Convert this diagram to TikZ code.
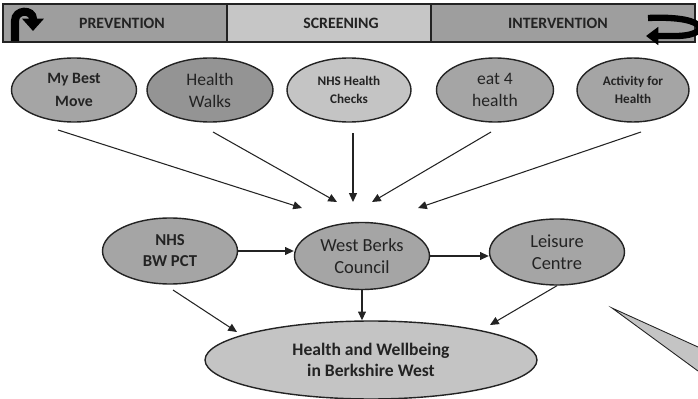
\documentclass[tikz,border=0pt]{standalone}
\usepackage{fontspec}
\setmainfont{Carlito}
\usetikzlibrary{arrows.meta, shapes.geometric, positioning, calc}
\tikzset{every node/.append style={align=center}}
\definecolor{bandgray}{RGB}{158,158,158}
\definecolor{bandlight}{RGB}{198,198,198}
\definecolor{blobgray}{RGB}{165,165,165}
\definecolor{blobdark}{RGB}{148,148,148}
\definecolor{bloblight}{RGB}{196,196,196}
\definecolor{inkgray}{RGB}{35,35,35}

\tikzset{
  blob/.style={ellipse, draw=inkgray, line width=0.8pt, fill=blobgray, inner sep=0pt,
               text=inkgray},
  link/.style={draw=inkgray, line width=0.6pt, -{Triangle[length=5pt,width=4.5pt]}},
  band/.style={draw=inkgray, line width=0.6pt},
  bandtxt/.style={font=\fontsize{9}{10}\selectfont\bfseries, text=inkgray},
}

\begin{document}
\begin{tikzpicture}[x=0.02cm,y=-0.02cm]
\useasboundingbox (0,0) rectangle (698,399);

% ── Stage bar ────────────────────────────────────────────────────────────────
\foreach \xa/\xb/\col in {3/227/bandgray, 227/431/bandlight, 431/695/bandgray}
  \filldraw[band, fill=\col] (\xa,4) rectangle (\xb,42);
\node[bandtxt] (prev) at (122,23) {PREVENTION};
\node[bandtxt] (scr)  at (341,23) {SCREENING};
\node[bandtxt] (intv) at (558,23) {INTERVENTION};

% U-turn and return arrows
\draw[black, line width=4.6pt, -{Triangle[length=7pt,width=12pt]}]
     (15,41) -- (15,21) .. controls (15,9) and (33,9) .. (33,19) -- (33,31);
\draw[black, line width=3.6pt, -{Triangle[length=7pt,width=10pt]}]
     (648,18) .. controls (712,15) and (712,37) .. (672,36) -- (646,36);

% ── Programmes ───────────────────────────────────────────────────────────────
\node[blob, minimum width=2.5cm, minimum height=1.28cm,
      font=\fontsize{9}{13}\selectfont\bfseries] (mbm) at (74,90) {My Best\\Move};
\node[blob, fill=blobdark, minimum width=2.52cm, minimum height=1.28cm,
      font=\fontsize{10}{12.5}\selectfont] (walk) at (210,90) {Health\\Walks};
\node[blob, fill=bloblight, minimum width=2.48cm, minimum height=1.28cm,
      font=\fontsize{7.5}{10}\selectfont\bfseries] (chk) at (349,90) {NHS Health\\Checks};
\node[blob, minimum width=2.34cm, minimum height=1.28cm,
      font=\fontsize{10}{12.5}\selectfont] (eat) at (495,90) {eat 4\\health};
\node[blob, minimum width=2.24cm, minimum height=1.28cm,
      font=\fontsize{7.5}{10}\selectfont\bfseries] (act) at (633,90) {Activity for\\Health};

% arrows converging above the council
\foreach \sx/\sy/\tx/\ty/\nm in {58/130/302/208/a, 213/132/337/202/b,
                                 353/133/353/202/c, 491/132/372/202/d,
                                 641/132/418/208/e} {
  \coordinate (s\nm) at (\sx,\sy);
  \coordinate (t\nm) at (\tx,\ty);
  \draw[link] (s\nm) -- (t\nm);
}

% ── Partners ─────────────────────────────────────────────────────────────────
\node[blob, minimum width=2.7cm, minimum height=1.32cm,
      font=\fontsize{9.5}{12}\selectfont\bfseries] (nhs) at (170,251) {NHS\\BW PCT};
\node[blob, minimum width=2.7cm, minimum height=1.34cm,
      font=\fontsize{10.5}{12.5}\selectfont] (wbc) at (362,256) {West Berks\\Council};
\node[blob, minimum width=2.7cm, minimum height=1.32cm,
      font=\fontsize{10.5}{12.5}\selectfont] (lc) at (557,252) {Leisure\\Centre};

\node[blob, fill=bloblight, minimum width=6.64cm, minimum height=1.56cm,
      font=\fontsize{10}{11.5}\selectfont\bfseries] (hw) at (371,360)
      {Health and Wellbeing\\in Berkshire West};

\coordinate (nhsB) at (173,290);
\coordinate (hwL) at (237,332);
\coordinate (hwR) at (490,325);
\draw[link] (nhs.east) -- (nhs.east -| wbc.west);
\draw[link] (wbc.east) -- (wbc.east -| lc.west);
\draw[link] (wbc.south) -- (wbc.south |- hw.north);
\draw[link] (nhsB) -- (hwL);
\draw[link] (lc.south) -- (hwR);

% callout pointer at the right edge
\fill[bloblight] (612,308) -- (698,347) -- (698,371) -- cycle;
\draw[inkgray, line width=0.5pt] (698,347) -- (612,308) -- (698,371);

\end{tikzpicture}
\end{document}
